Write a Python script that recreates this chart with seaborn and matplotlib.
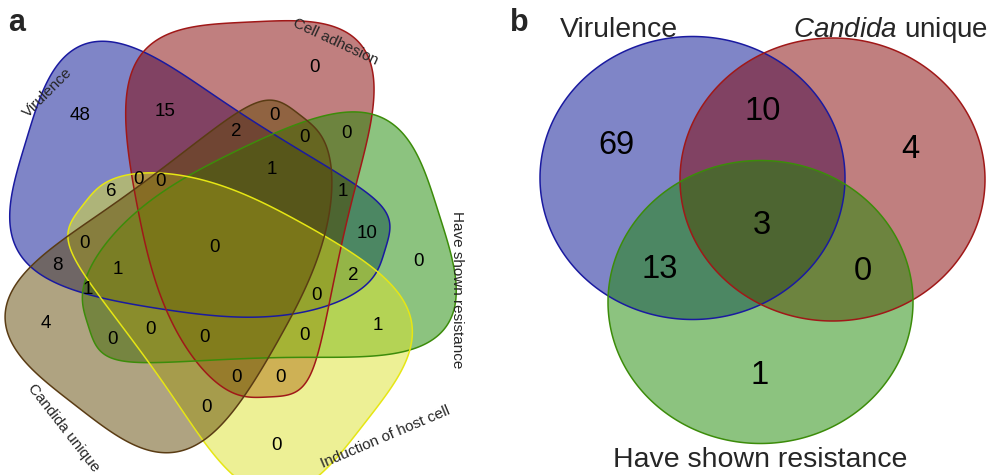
import itertools
import numpy as np
import matplotlib
matplotlib.use("Agg")
import matplotlib.pyplot as plt
from matplotlib.patches import Polygon
import seaborn as sns

# ---------------------------------------------------------------- data
# five-set diagram: set order V, A, R, I, U
sets_a = ["Virulence", "Cell adhesion", "Have shown resistance",
          "Induction of host cell", "Candida unique"]
regions_a = ["10000", "01000", "00100", "00010", "00001",
             "11000", "01100", "00110", "00011", "10001",
             "10010", "01001", "10100", "01010", "00101",
             "11010", "01101", "10110", "01011", "10101",
             "11001", "11100", "01110", "00111", "10011",
             "11101", "11110", "01111", "10111", "11011",
             "11111"]
counts_a = [48, 0, 0, 0, 4,
            15, 0, 1, 0, 8,
            6, 0, 10, 0, 0,
            0, 0, 2, 0, 1,
            2, 1, 0, 0, 0,
            1, 0, 0, 1, 0,
            0]

# three-set diagram
sets_b = ["Virulence", "Candida unique", "Have shown resistance"]
regions_b = ["100", "010", "001", "110", "101", "011", "111"]
counts_b = [69, 4, 1, 10, 13, 0, 3]

# ---------------------------------------------------------------- style
sns.set_theme(style="white")
plt.rcParams["font.family"] = ["Liberation Sans", "DejaVu Sans"]
plt.rcParams["mathtext.fontset"] = "custom"
plt.rcParams["mathtext.it"] = "Liberation Sans:italic"
plt.rcParams["mathtext.rm"] = "Liberation Sans"

fill_a = ["#010d91", "#830000", "#1b8900", "#dde32d", "#614905"]
edge_a = ["#1a1aa0", "#a01818", "#3c8c0a", "#e6e614", "#5a3c14"]
fill_b = [fill_a[0], fill_a[1], fill_a[2]]
edge_b = [edge_a[0], edge_a[1], edge_a[2]]

W, H = 992, 475
fig = plt.figure(figsize=(W / 100, H / 100), dpi=100)
ax = fig.add_axes([0, 0, 1, 1])
ax.set_xlim(0, W)
ax.set_ylim(0, H)
ax.axis("off")


def normalised(q):
    gy, gx = np.gradient(q)
    return (q - 1) / np.maximum(np.hypot(gx, gy), 1e-9)


# ---------------------------------------------------------- petal shapes
# A petal runs from a narrow tongue tip T to a broad lobe tip L.  In the
# petal frame x runs along T->L (x/a from -1 to 1) and y across it; the
# half-width follows a tapered superellipse and the mid-line bows sideways.
def petal_frame(tips):
    L, T = np.asarray(tips[0], float), np.asarray(tips[1], float)
    c = (L + T) / 2
    a = np.linalg.norm(L - T) / 2
    u = (L - T) / (2 * a)
    n = np.array([-u[1], u[0]])
    return c, a, u, n


def bow(xr, a, form):
    s = xr / a
    return form["bow"] * a * (1 - s ** 2) * (1 - s) / 2


def petal_field(X, Y, tips, form):
    c, a, u, n = petal_frame(tips)
    p, k, hw = form["p"], form["taper"], form["half"]
    dx, dy = X - c[0], Y - c[1]
    xr = dx * u[0] + dy * u[1]
    yr = dx * n[0] + dy * n[1] - bow(np.clip(xr, -a, a), a, form)
    bx = hw * np.clip(1 + k * xr / a, 0.05, None)
    q = (np.abs(xr / a) ** p + np.abs(yr / bx) ** p) ** (1 / p)
    return normalised(q)


def petal_outline(tips, form, n_pts=720):
    c, a, u, n = petal_frame(tips)
    p, k, hw = form["p"], form["taper"], form["half"]
    t = np.linspace(0, 2 * np.pi, n_pts)
    cs, sn = np.cos(t), np.sin(t)
    xr = a * np.sign(cs) * np.abs(cs) ** (2 / p)
    yr = (hw * (1 + k * xr / a) * np.sign(sn) * np.abs(sn) ** (2 / p)
          + bow(xr, a, form))
    return c + xr[:, None] * u + yr[:, None] * n


# --------------------------------------------------------- ellipse shapes
def ellipse_field(X, Y, shp, form=None):
    cx, cy, a, b = shp
    return normalised(np.sqrt(((X - cx) / a) ** 2 + ((Y - cy) / b) ** 2))


def ellipse_outline(shp, n=400):
    cx, cy, a, b = shp
    t = np.linspace(0, 2 * np.pi, n)
    return np.column_stack([cx + a * np.cos(t), cy + b * np.sin(t)])


# ------------------------------------------------------ region labelling
def region_poles(field, shapes, form, codes, xlim, ylim, step):
    xs = np.arange(xlim[0], xlim[1], step)
    ys = np.arange(ylim[0], ylim[1], step)
    X, Y = np.meshgrid(xs, ys)
    fields = [field(X, Y, s, form) * step for s in shapes]
    inside = [f < 0 for f in fields]
    depth = np.min(np.abs(fields), axis=0)
    poles = []
    for code in codes:
        mask = np.ones_like(X, dtype=bool)
        for k, ch in enumerate(code):
            mask &= inside[k] if ch == "1" else ~inside[k]
        if not mask.any():
            poles.append((-1.0, None))
            continue
        dd = np.where(mask, depth, -1)
        i = np.unravel_index(np.argmax(dd), dd.shape)
        poles.append((dd[i], (X[i], Y[i])))
    return poles


def draw_counts(poles, counts, fs):
    for (d, xy), n in zip(poles, counts):
        if xy is not None:
            ax.text(xy[0], xy[1], str(n), ha="center", va="center",
                    fontsize=fs, color="black", zorder=10)


def draw_shapes(outlines, fills, edges, lw):
    for pts, fc, ec in zip(outlines, fills, edges):
        ax.add_patch(Polygon(pts, closed=True, facecolor=fc, alpha=0.5,
                             edgecolor="none", zorder=2))
        ax.add_patch(Polygon(pts, closed=True, facecolor="none",
                             edgecolor=ec, lw=lw, zorder=3))


def px(x, y):
    return (x, H - y)


# ---------------------------------------------------------------- panel a
petal_tips = [(px(26, 141), px(385, 250)),
              (px(250, 22), px(268, 397)),
              (px(439, 214), px(88, 325)),
              (px(364, 424), px(83, 205)),
              (px(75, 405), px(300, 115))]
# intended pixel extent (left, top, right, bottom) of each petal
petal_boxes = [(10, 67, 385, 322), (125, 22, 367, 398), (88, 117, 447, 367),
               (83, 143, 393, 463), (27, 100, 307, 447)]


def box_error(form):
    err = 0.0
    for tips, (l, t, r, b) in zip(petal_tips, petal_boxes):
        pts = petal_outline(tips, form, 240)
        err += (abs(pts[:, 0].min() - l) + abs(pts[:, 0].max() - r)
                + abs((H - pts[:, 1].max()) - t) + abs((H - pts[:, 1].min()) - b))
    return err


# pick the petal form that best fills the intended extents while still
# giving every one of the 31 regions room for its count
options = []
for hw, tp, bw, pe in itertools.product([86.0, 90.0, 94.0, 98.0, 102.0, 106.0],
                                        [0.2, 0.3, 0.4, 0.5],
                                        [0.05, 0.15, 0.25, 0.35, 0.45],
                                        [2.2, 2.6, 3.0, 3.4]):
    form = dict(half=hw, taper=tp, bow=bw, p=pe)
    options.append((box_error(form), form))
options.sort(key=lambda o: o[0])

form_a, best_depth = options[0][1], -2.0
for err, form in options:
    poles = region_poles(petal_field, petal_tips, form, regions_a,
                         (0, 480), (0, H), 2.0)
    worst = min(d for d, _ in poles)
    if worst > best_depth:
        form_a, best_depth = form, worst
    if worst >= 6:
        form_a = form
        break

draw_shapes([petal_outline(s, form_a) for s in petal_tips], fill_a, edge_a, 1.1)
draw_counts(region_poles(petal_field, petal_tips, form_a, regions_a,
                         (0, 480), (0, H), 1.0), counts_a, 13.5)

label_pos_a = [(48, 93, 45), (335, 42, -25), (457, 290, -90),
               (385, 437, 23), (64, 428, -52)]
for name, (x0, y0, rot) in zip(sets_a, label_pos_a):
    ax.text(x0, H - y0, name, rotation=rot, rotation_mode="anchor",
            ha="center", va="center", fontsize=11, zorder=10)

# ---------------------------------------------------------------- panel b
shapes_b = [(692.5, H - 178.0, 152.5, 141.5),
            (832.5, H - 179.5, 152.5, 141.5),
            (760.5, H - 302.0, 152.5, 141.5)]
draw_shapes([ellipse_outline(s) for s in shapes_b], fill_b, edge_b, 1.1)
draw_counts(region_poles(ellipse_field, shapes_b, None, regions_b,
                         (520, W), (0, H), 1.0), counts_b, 23.5)

ax.text(619, H - 30, sets_b[0], ha="center", va="center", fontsize=20.5)
ax.text(891, H - 30, r"$\it{Candida}$" + " unique", ha="center",
        va="center", fontsize=20)
ax.text(760, H - 460, sets_b[2], ha="center", va="center", fontsize=20.5)

# panel letters
ax.text(8, H - 8, "a", ha="left", va="top", fontsize=22, fontweight="bold")
ax.text(510, H - 8, "b", ha="left", va="top", fontsize=22, fontweight="bold")

fig.savefig("out.png", dpi=100)
